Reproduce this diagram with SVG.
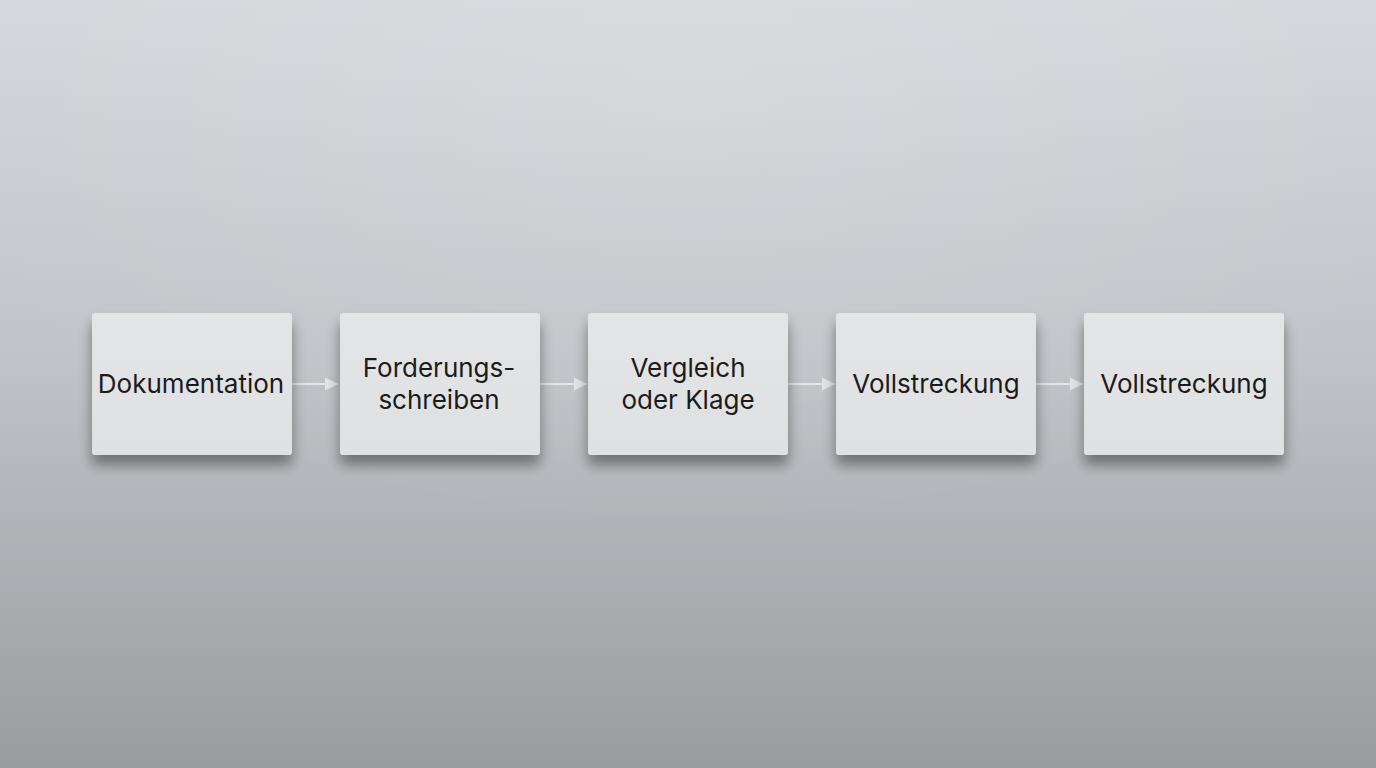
<svg xmlns="http://www.w3.org/2000/svg" width="1376" height="768" viewBox="0 0 1376 768">
<defs>
<linearGradient id="bg" x1="0" y1="0" x2="0" y2="1">
<stop offset="0" stop-color="#d4d7db"/>
<stop offset="0.45" stop-color="#c1c4c8"/>
<stop offset="1" stop-color="#999da0"/>
</linearGradient>
<radialGradient id="glow" cx="0.5" cy="0.1" r="0.6">
<stop offset="0" stop-color="#ffffff" stop-opacity="0.15"/>
<stop offset="1" stop-color="#ffffff" stop-opacity="0"/>
</radialGradient>
<linearGradient id="box" x1="0" y1="0" x2="0" y2="1">
<stop offset="0" stop-color="#e4e5e7"/>
<stop offset="1" stop-color="#dfe0e2"/>
</linearGradient>
<filter id="sh" x="-20%" y="-20%" width="140%" height="160%">
<feGaussianBlur in="SourceAlpha" stdDeviation="7"/>
<feOffset dx="0" dy="10" result="b"/>
<feComponentTransfer><feFuncA type="linear" slope="0.4"/></feComponentTransfer>
<feMerge><feMergeNode/><feMergeNode in="SourceGraphic"/></feMerge>
</filter>
<marker id="ah" viewBox="0 0 12 12" refX="12" refY="6" markerWidth="13" markerHeight="13" markerUnits="userSpaceOnUse" orient="auto">
<path d="M0,0 L12,6 L0,12 Z" fill="#e3e4e6"/>
</marker>
<style>
.node rect{fill:url(#box);filter:url(#sh)}
.node text{font-family:Inter,"Liberation Sans",sans-serif;font-size:26px;fill:#1b1b1c;text-anchor:middle}
.conn line{stroke:#e3e4e6;stroke-width:2;marker-end:url(#ah)}
</style>
</defs>
<rect width="1376" height="768" fill="url(#bg)"/>
<rect width="1376" height="768" fill="url(#glow)"/>
<g id="connectors" class="conn">
<line x1="292" y1="384" x2="338" y2="384"/>
<line x1="540" y1="384" x2="587" y2="384"/>
<line x1="788" y1="384" x2="835" y2="384"/>
<line x1="1036" y1="384" x2="1083" y2="384"/>
</g>
<g id="n1" class="node"><rect x="92" y="313" width="200" height="142" rx="3"/><text x="191" y="393">Dokumentation</text></g>
<g id="n2" class="node"><rect x="340" y="313" width="200" height="142" rx="3"/><text x="439" y="377">Forderungs-</text><text x="439" y="409">schreiben</text></g>
<g id="n3" class="node"><rect x="588" y="313" width="200" height="142" rx="3"/><text x="688" y="377">Vergleich</text><text x="688" y="409">oder Klage</text></g>
<g id="n4" class="node"><rect x="836" y="313" width="200" height="142" rx="3"/><text x="936" y="393">Vollstreckung</text></g>
<g id="n5" class="node"><rect x="1084" y="313" width="200" height="142" rx="3"/><text x="1184" y="393">Vollstreckung</text></g>
</svg>
